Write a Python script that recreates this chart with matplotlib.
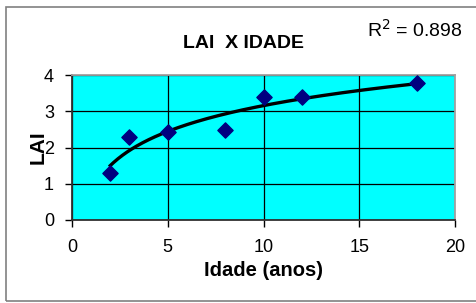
import numpy as np
import matplotlib
matplotlib.use("Agg")
import matplotlib.pyplot as plt
from matplotlib.patches import Rectangle

plt.rcParams["font.family"] = ["Liberation Sans", "DejaVu Sans"]

# LAI vs age
idade = [2, 3, 5, 8, 10, 12, 18]
lai = [1.31, 2.29, 2.42, 2.47, 3.39, 3.39, 3.78]
r2_text = "0.898"

# logarithmic trendline (Excel style): y = a ln(x) + b
a, b = np.polyfit(np.log(idade), lai, 1)
xt = np.linspace(min(idade), max(idade), 200)
yt = a * np.log(xt) + b

fig = plt.figure(figsize=(4.76, 3.03), dpi=100)
ax = fig.add_axes([72 / 476, 1 - 220 / 303, (455 - 72) / 476, (220 - 75) / 303])

# chart area border
fig.patches.append(Rectangle((6 / 476, 1 - 301 / 303), 1.2, 294 / 303,
                             transform=fig.transFigure, fill=False,
                             edgecolor="#808080", lw=1.2))

ax.set_facecolor("#00FFFF")
ax.plot(xt, yt, color="black", lw=2.4, zorder=3)
ax.scatter(idade, lai, marker="D", s=60, color="#000080", zorder=4)

ax.set_xlim(0, 20)
ax.set_ylim(0, 4)
ax.set_xticks([0, 5, 10, 15, 20])
ax.set_yticks([0, 1, 2, 3, 4])
ax.grid(True, color="black", lw=0.9)
ax.set_axisbelow(True)
ax.tick_params(direction="out", length=5, width=1, labelsize=13)
ax.tick_params(axis="x", pad=9)
ax.tick_params(axis="y", pad=8)
for s in ["top", "right"]:
    ax.spines[s].set_color("#a0a0a0")
    ax.spines[s].set_linewidth(1.3)
for s in ["left", "bottom"]:
    ax.spines[s].set_color("#303030")
    ax.spines[s].set_linewidth(1.3)

ax.set_xlabel("Idade (anos)", fontsize=14.5, fontweight="bold", va="center")
ax.xaxis.set_label_coords(0.499, -0.345)
ax.set_ylabel("LAI", fontsize=15, fontweight="bold", va="center")
ax.yaxis.set_label_coords(-0.089, 0.5)

fig.text(244 / 476, 1 - 44 / 303, "LAI  X IDADE", fontsize=14,
         fontweight="bold", ha="center", va="center")
fig.text(463 / 476, 1 - 30 / 303, "R$^2$ = " + r2_text, fontsize=14,
         ha="right", va="center")

fig.savefig("out.png", dpi=100)
